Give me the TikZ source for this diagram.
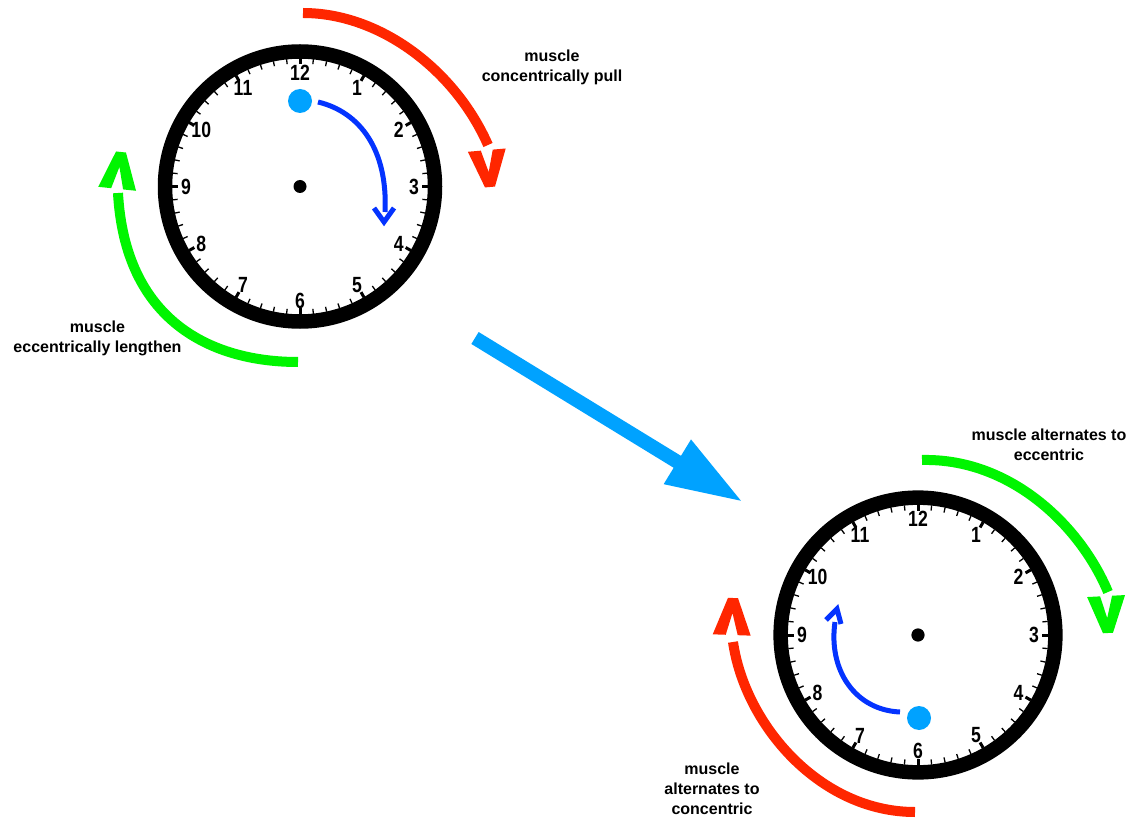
\documentclass[tikz,border=0pt]{standalone}
\usepackage{fontspec}
\usepackage{graphicx}
\setmainfont{Liberation Sans}
\usetikzlibrary{arrows.meta}
\definecolor{kred}{RGB}{255,38,0}
\definecolor{kgreen}{RGB}{0,245,0}
\definecolor{kblue}{RGB}{4,51,255}
\definecolor{lblue}{RGB}{0,162,255}
\tikzset{
  clockring/.style={line width=14.5pt},
  mintick/.style={line width=1.3pt},
  hrtick/.style={line width=3pt},
  numeral/.style={font=\bfseries\fontsize{22}{22}\selectfont, inner sep=0pt},
  bigarc/.style={line width=10pt},
  handarc/.style={line width=5pt, draw=kblue},
  lbl/.style={font=\bfseries\fontsize{16}{20}\selectfont, align=center, inner sep=0pt},
}
\newcommand\myclock[4]{%
  \begin{scope}[shift={(#2,#3)}, scale=#4]
    \foreach \m in {0,...,59} {\draw[mintick] (\m*6-90:128) -- (\m*6-90:123);}
    \foreach \h in {1,...,12} {
      \draw[hrtick] (\h*30-90:128) -- (\h*30-90:122);
      \node[numeral] (#1n\h) at (\h*30-90:114) {\scalebox{0.8}[1]{\h}};
    }
    \draw[clockring] (0,0) circle[radius=135];
    \fill (0,0) circle[radius=6.5];
  \end{scope}}
% thick open V arrowhead: colour, tip x, tip y, rotation
\newcommand\vhead[4]{%
  \fill[#1, shift={(#2,#3)}, rotate=#4]
    (-19,-37) -- (-6,-37) -- (0,-15) -- (6,-37) -- (19,-37) -- (5,0) -- (-5,0) -- cycle;}
\begin{document}
\begin{tikzpicture}[x=1pt,y=-1pt]
\fill[white] (0,0) rectangle (1138,818);
\useasboundingbox (0,0) rectangle (1138,818);

% clock 1
\myclock{a}{300}{186.5}{1}
\fill[lblue] (300,101) circle[radius=12];
\draw[handarc] (318,102) .. controls (360,112) and (388,150) .. (385,212);
\draw[handarc] (374,208) -- (384,222) -- (394,208);
% red arrow clock 1
\draw[bigarc,kred] (303,13) .. controls (380,13) and (455,70) .. (488,145);
\vhead{kred}{490}{187}{5}
% green arrow clock 1
\draw[bigarc,kgreen] (298,362) .. controls (210,362) and (125,320) .. (118,193);
\vhead{kgreen}{121}{152}{174}

% big blue arrow
\coordinate (bigtail) at (475,338);
\coordinate (bighead) at (743,502);
\draw[lblue, line width=14pt, -{Triangle[length=77pt,width=48pt]}] (bigtail) -- (bighead);

% clock 2
\myclock{b}{918}{635}{1.0175}
\fill[lblue] (919,718) circle[radius=12];
\draw[handarc] (900,712) .. controls (855,710) and (828,670) .. (835,622);
\draw[handarc] (826,620) -- (837,609) -- (841,624);
% red arrow clock 2
\draw[bigarc,kred] (915,812) .. controls (820,812) and (745,725) .. (733,642);
\vhead{kred}{733}{598}{178}
% green arrow clock 2
\draw[bigarc,kgreen] (922,460) .. controls (1010,458) and (1080,525) .. (1108,592);
\vhead{kgreen}{1108}{633}{3}

% labels
\node[lbl] (lab1) at (552,67.5) {muscle\\concentrically pull};
\node[lbl] (lab2) at (97.5,338) {muscle\\eccentrically lengthen};
\node[lbl] (lab3) at (1049,445) {muscle alternates to\\eccentric};
\node[lbl] (lab4) at (712,789) {muscle\\alternates to\\concentric};
\end{tikzpicture}
\end{document}
